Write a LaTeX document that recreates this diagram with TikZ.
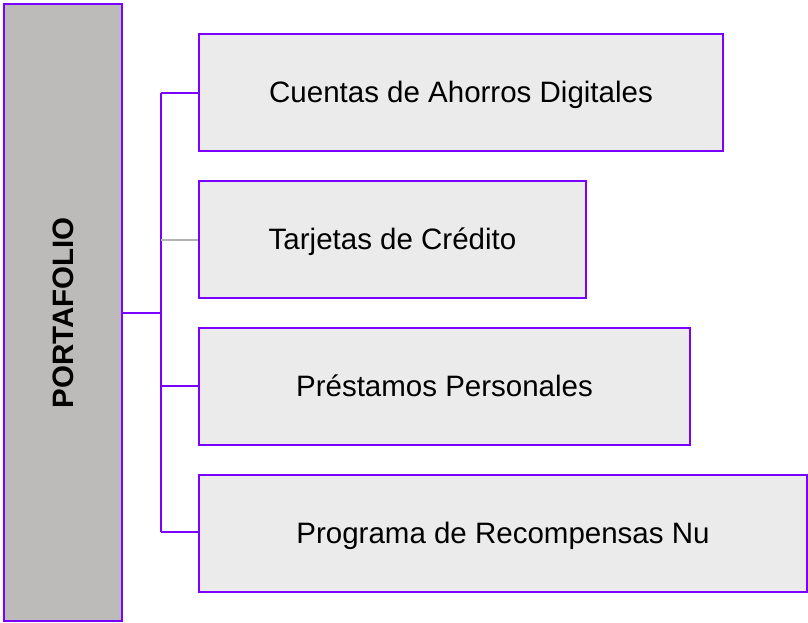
\documentclass[tikz,border=0pt]{standalone}
\usepackage{fontspec}
\setmainfont{Liberation Sans}
\definecolor{nupurple}{HTML}{7A00FF}
\definecolor{sidegray}{HTML}{BDBBB9}
\definecolor{boxgray}{HTML}{ECEBEB}
\begin{document}
\begin{tikzpicture}[x=1pt,y=-1pt,
    line width=2.5pt,
    item/.style={draw=nupurple,fill=boxgray,minimum height=117pt,inner sep=0pt,
      text height=26pt,text depth=6pt,font=\fontsize{29.5}{34}\selectfont},
    side/.style={draw=nupurple,fill=sidegray,minimum width=118pt,minimum height=617pt,inner sep=0pt}]
      \useasboundingbox (0,0) rectangle (808,623);
      \node[side] (port) at (63,312.5) {};
      \node[rotate=90,font=\fontsize{29.5}{34}\selectfont\bfseries] (title) at (63,313) {PORTAFOLIO};
      \node[item,minimum width=524pt] (1) at (461,92.5) {Cuentas de Ahorros Digitales};
      \node[item,minimum width=387pt] (2) at (392.5,239.5) {Tarjetas de Crédito};
      \node[item,minimum width=491pt] (3) at (444.5,386.5) {Préstamos Personales};
      \node[item,minimum width=608pt] (4) at (503,533.5) {Programa de Recompensas Nu};
      \coordinate (j0) at (161,313);
      \coordinate (j1) at (161,93);
      \coordinate (j2) at (161,240);
      \coordinate (j3) at (161,386);
      \coordinate (j4) at (161,532);
      \begin{scope}[nupurple]
        \draw (port.east |- j0) -- (j0);
        \draw (j1) -- (j4);
        \draw (j1) -- (1.west |- j1);
        \draw[black!30] (j2) -- (2.west |- j2);
        \draw (j3) -- (3.west |- j3);
        \draw (j4) -- (4.west |- j4);
      \end{scope}
    \end{tikzpicture}
\end{document}
